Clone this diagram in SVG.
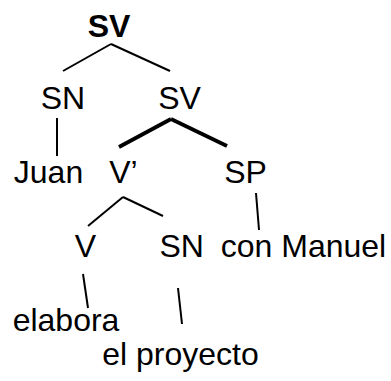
<svg xmlns="http://www.w3.org/2000/svg" width="391" height="381" viewBox="0 0 391 381">
<style>
text{font-family:"Liberation Sans",Arial,sans-serif;font-size:32px;fill:#000;text-anchor:middle}
.b{font-weight:bold}
.e{stroke:#000;stroke-width:2;fill:none}
.t{stroke-width:3.8}
</style>
<rect width="391" height="381" fill="#fff"/>
<g id="connectors">
<line class="e" x1="111" y1="44" x2="63" y2="71"/>
<line class="e" x1="111" y1="44" x2="170" y2="71"/>
<line class="e" x1="57" y1="118" x2="57" y2="156"/>
<line class="e t" x1="171" y1="119" x2="119" y2="147"/>
<line class="e t" x1="171" y1="119" x2="227" y2="146"/>
<line class="e" x1="123" y1="197" x2="88" y2="226"/>
<line class="e" x1="123" y1="197" x2="163" y2="216"/>
<line class="e" x1="256" y1="193" x2="259" y2="230"/>
<line class="e" x1="83" y1="274" x2="88" y2="308"/>
<line class="e" x1="178" y1="288" x2="182" y2="324"/>
</g>
<g id="n-sv-root"><text class="b" x="109" y="36.5">SV</text></g>
<g id="n-sn1"><text x="63" y="109">SN</text></g>
<g id="n-sv"><text x="179.5" y="109">SV</text></g>
<g id="n-juan"><text x="48.5" y="183">Juan</text></g>
<g id="n-vbar"><text x="123.5" y="183">V’</text></g>
<g id="n-sp"><text x="245.5" y="183">SP</text></g>
<g id="n-v"><text x="85.5" y="257">V</text></g>
<g id="n-sn2"><text x="181.7" y="257">SN</text></g>
<g id="n-con"><text x="303.5" y="257">con Manuel</text></g>
<g id="n-elabora"><text x="66" y="331">elabora</text></g>
<g id="n-proyecto"><text x="180.5" y="365">el proyecto</text></g>
</svg>
